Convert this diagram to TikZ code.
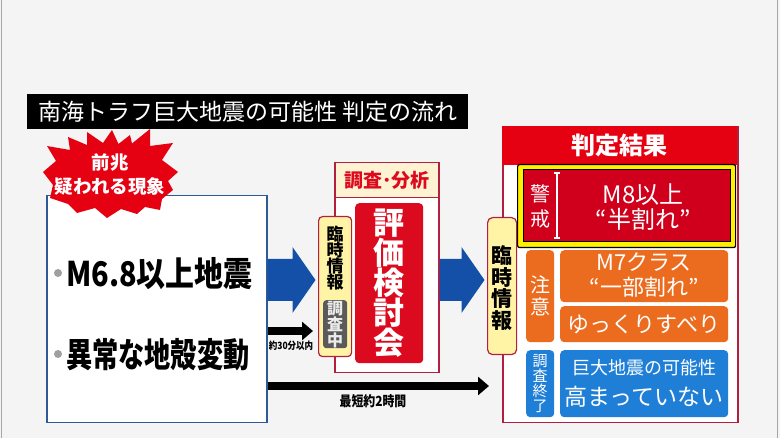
\documentclass[tikz,border=0pt]{standalone}
\usepackage{fontspec}
\setmainfont{Noto Sans CJK JP}
\newfontfamily\jpc{Noto Sans CJK JP}[FakeStretch=0.85]
\newfontfamily\jpcc{Noto Sans CJK JP}[FakeStretch=0.77]
\usetikzlibrary{arrows.meta}
\definecolor{bg}{HTML}{F4F4F4}
\definecolor{starred}{HTML}{E50012}
\definecolor{boxblue}{HTML}{2E5A96}
\definecolor{arrowblue}{HTML}{1550A8}
\definecolor{crimson}{HTML}{B3203F}
\definecolor{cream}{HTML}{FDF3D3}
\definecolor{hred}{HTML}{DC0A1E}
\definecolor{tagyellow}{HTML}{FFF3A6}
\definecolor{graytag}{HTML}{5A5A5A}
\definecolor{alertred}{HTML}{D0001C}
\definecolor{hiyellow}{HTML}{FFF000}
\definecolor{orng}{HTML}{EC6C1F}
\definecolor{infoblue}{HTML}{1F7FD6}
\newcommand\myfs[2]{\fontsize{#1}{#2}\selectfont}
\tikzset{
  box/.style={rectangle, inner sep=0pt, anchor=north west},
  tagbox/.style={box, fill=tagyellow, draw=crimson, line width=1.2pt, rounded corners=4pt},
  vtext/.style={inner sep=0pt, align=center},
  fatarrow/.style={fill=arrowblue},
  blackarrow/.style={line width=7.5pt, -{Triangle[length=11pt,width=18pt]}},
}
\begin{document}
\begin{tikzpicture}[x=1pt,y=-1pt]
\useasboundingbox (0,0) rectangle (780,438);
\fill[bg] (0,0) rectangle (780,438);
\draw[gray!70, line width=1.5pt] (1.5,0) -- (1.5,438);
\draw[gray!70, line width=1.5pt] (777.5,0) -- (777.5,438);

% title
\node[box, fill=black, text=white, minimum width=441pt, minimum height=35pt, font=\myfs{23}{23}] (title) at (27,94) {南海トラフ巨大地震の可能性 判定の流れ};

% left box
\node[box, draw=boxblue, line width=1.5pt, fill=white, minimum width=220pt, minimum height=227pt] (lb) at (46,195) {};
\fill[gray!75] (58,273) circle (4pt);
\fill[gray!75] (58,354) circle (4pt);
\node[anchor=west, inner sep=0pt, font=\jpc\bfseries\myfs{34}{34}] (t1) at (66,274) {M6.8以上地震};
\node[anchor=west, inner sep=0pt, font=\jpcc\bfseries\myfs{34}{34}] (t2) at (66,355) {異常な地殻変動};

% starburst
\fill[starred] (47,146) -- (70,150) -- (68,137) -- (87,145) -- (87,132) -- (103,143) -- (112,130) -- (118.5,144) -- (130,135) -- (132,143.5) -- (150,129) -- (150,146) -- (173,143) -- (162,160) -- (178,172) -- (168,181) -- (173,190) -- (162,199) -- (160,210) -- (145,207) -- (137,214) -- (121,209) -- (107,218) -- (95,208) -- (77,213) -- (68,204) -- (50,198) -- (53,185) -- (43,172) -- (56,161) -- cycle;
\node[vtext, text=white, font=\bfseries\myfs{18.5}{24}] (startext) at (110,175) {前兆\\疑われる現象};

% analysis box
\node[box, draw=crimson, line width=1.5pt, fill=white, minimum width=104pt, minimum height=210pt] (ana) at (334,162) {};
\node[box, draw=crimson, line width=1.5pt, fill=cream, minimum width=104pt, minimum height=35pt, text=hred, font=\bfseries\myfs{19}{19}] (anah) at (334,162) {調査･分析};
\node[box, fill=hred, rounded corners=4pt, minimum width=68pt, minimum height=160pt] (hyoka) at (355,203) {};
\node[vtext, text=white, font=\bfseries\myfs{31}{30}] at (hyoka.center) {評\\価\\検\\討\\会};

% left tag
\node[tagbox, minimum width=33pt, minimum height=140pt] (tagL) at (318,216) {};
\node[vtext, font=\bfseries\myfs{17}{16.3}] (tagLt) at (335,258) {臨\\時\\情\\報};
\node[box, fill=graytag, rounded corners=3pt, minimum width=24pt, minimum height=48pt] (chosa) at (323,300) {};
\node[vtext, text=gray!15, font=\bfseries\myfs{16}{16}] at (chosa.center) {調\\査\\中};

% result box
\node[box, draw=crimson, line width=1.5pt, fill=white, minimum width=235pt, minimum height=296pt] (res) at (502,126) {};
\node[box, fill=starred, minimum width=235pt, minimum height=39pt, text=white, font=\bfseries\myfs{24}{24}] (resh) at (502,126) {判定結果};

% right tag
\node[tagbox, minimum width=29pt, minimum height=137pt, rounded corners=5pt] (tagR) at (487,217) {};
\node[vtext, font=\bfseries\myfs{21}{21.5}] at (501.5,288) {臨\\時\\情\\報};

% alert
\node[box, draw=black, line width=1.2pt, fill=hiyellow, rounded corners=2pt, minimum width=218pt, minimum height=83pt] (hl) at (517,164) {};
\node[box, draw=black, line width=1pt, fill=alertred, minimum width=207pt, minimum height=72pt] (alert) at (522.5,169.5) {};
\draw[white, line width=2pt] (557,173) -- (557,238);
\draw[white, line width=1.2pt] (554,173) -- (560,173) (554,238) -- (560,238);
\node[vtext, text=white, font=\myfs{20}{25}] at (540,206) {警\\戒};
\node[vtext, text=white, font=\myfs{24}{25}] at (643,207) {M8以上\\“半割れ”};

% caution
\node[box, fill=orng, rounded corners=4pt, minimum width=28pt, minimum height=92pt] (cautag) at (526,250) {};
\node[vtext, text=white, font=\myfs{20}{22}] at (cautag.center) {注\\意};
\node[box, fill=orng, rounded corners=4pt, minimum width=168pt, minimum height=52pt] (m7) at (560,250) {};
\node[vtext, text=white, font=\myfs{22}{25}] at (644,275) {M7クラス\\“一部割れ”};
\node[box, fill=orng, rounded corners=4pt, minimum width=168pt, minimum height=36pt, text=white, font=\myfs{22}{22}] (slow) at (560,306) {ゆっくりすべり};

% investigation ended
\node[box, fill=infoblue, rounded corners=4pt, minimum width=28pt, minimum height=67pt] (endtag) at (526,350) {};
\node[vtext, text=white, font=\myfs{15}{15}] at (endtag.center) {調\\査\\終\\了};
\node[box, fill=infoblue, rounded corners=4pt, minimum width=168pt, minimum height=67pt] (low) at (560,350) {};
\node[inner sep=0pt, text=white, font=\myfs{18}{18}] at (644,368) {巨大地震の可能性};
\node[inner sep=0pt, text=white, font=\myfs{23}{23}] at (644,397) {高まっていない};

% fat arrows
\coordinate (a1) at (lb.east |- 0,280);
\fill[fatarrow] (a1) ++(0,-21) -- ++(25,0) -- ++(0,-12) -- ++(23,33) -- ++(-23,33) -- ++(0,-12) -- ++(-25,0) -- cycle;
\coordinate (a2) at (ana.east |- 0,280);
\fill[fatarrow] (a2) ++(0,-21) -- ++(22,0) -- ++(0,-12) -- ++(23,33) -- ++(-23,33) -- ++(0,-12) -- ++(-22,0) -- cycle;

% black arrows
\draw[blackarrow, shorten >=5pt] (lb.east |- 0,331) -- (tagL.west |- 0,331);
\node[inner sep=0pt, font=\jpc\bfseries\myfs{10}{10}] (l30) at (291,346) {約30分以内};
\draw[blackarrow, shorten >=13pt] (lb.east |- 0,386) -- (res.west |- 0,386);
\node[inner sep=0pt, font=\jpc\bfseries\myfs{14}{14}] (l2h) at (373,401) {最短約2時間};
\end{tikzpicture}
\end{document}
